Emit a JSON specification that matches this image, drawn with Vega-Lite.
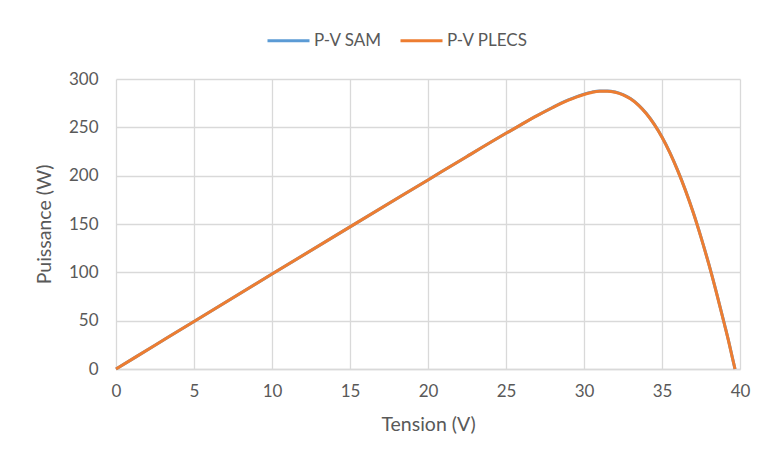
{
  "$schema": "https://vega.github.io/schema/vega-lite/v6.json",
  "width": 624,
  "height": 290,
  "autosize": {"type": "none"},
  "padding": {"left": 116, "top": 79, "right": 21, "bottom": 90},
  "background": "white",
  "config": {
    "font": "Lato",
    "view": {"stroke": null},
    "axis": {
      "gridColor": "#d9d9d9",
      "gridWidth": 1.3,
      "domain": false,
      "ticks": false,
      "labelColor": "#595959",
      "titleColor": "#595959",
      "labelFont": "Lato",
      "titleFont": "Lato",
      "labelFontSize": 17,
      "titleFontSize": 19.5,
      "titleFontWeight": "normal",
      "labelFlush": false
    }
  },
  "datasets": {
    "pv": [
      {"s": "P-V SAM", "V": 0, "P": 0},
      {"s": "P-V SAM", "V": 2.5, "P": 24.6},
      {"s": "P-V SAM", "V": 5, "P": 49.2},
      {"s": "P-V SAM", "V": 10, "P": 98.2},
      {"s": "P-V SAM", "V": 15, "P": 147.0},
      {"s": "P-V SAM", "V": 20, "P": 195.6},
      {"s": "P-V SAM", "V": 22.5, "P": 219.9},
      {"s": "P-V SAM", "V": 25, "P": 243.8},
      {"s": "P-V SAM", "V": 26, "P": 253.1},
      {"s": "P-V SAM", "V": 27, "P": 262.2},
      {"s": "P-V SAM", "V": 28, "P": 270.7},
      {"s": "P-V SAM", "V": 28.5, "P": 274.7},
      {"s": "P-V SAM", "V": 29, "P": 278.3},
      {"s": "P-V SAM", "V": 29.5, "P": 281.6},
      {"s": "P-V SAM", "V": 30, "P": 284.3},
      {"s": "P-V SAM", "V": 30.5, "P": 286.4},
      {"s": "P-V SAM", "V": 31, "P": 287.6},
      {"s": "P-V SAM", "V": 31.5, "P": 287.7},
      {"s": "P-V SAM", "V": 32, "P": 286.6},
      {"s": "P-V SAM", "V": 32.5, "P": 283.9},
      {"s": "P-V SAM", "V": 33, "P": 279.5},
      {"s": "P-V SAM", "V": 33.5, "P": 273.0},
      {"s": "P-V SAM", "V": 34, "P": 264.3},
      {"s": "P-V SAM", "V": 34.5, "P": 253.3},
      {"s": "P-V SAM", "V": 35, "P": 240.0},
      {"s": "P-V SAM", "V": 35.5, "P": 224.1},
      {"s": "P-V SAM", "V": 36, "P": 205.7},
      {"s": "P-V SAM", "V": 36.5, "P": 185.1},
      {"s": "P-V SAM", "V": 37, "P": 162.1},
      {"s": "P-V SAM", "V": 37.5, "P": 136.4},
      {"s": "P-V SAM", "V": 38, "P": 108.7},
      {"s": "P-V SAM", "V": 38.5, "P": 78.5},
      {"s": "P-V SAM", "V": 39, "P": 46.6},
      {"s": "P-V SAM", "V": 39.3, "P": 26.9},
      {"s": "P-V SAM", "V": 39.5, "P": 12.6},
      {"s": "P-V SAM", "V": 39.68, "P": 0},
      {"s": "P-V PLECS", "V": 0, "P": 0},
      {"s": "P-V PLECS", "V": 2.5, "P": 24.6},
      {"s": "P-V PLECS", "V": 5, "P": 49.2},
      {"s": "P-V PLECS", "V": 10, "P": 98.2},
      {"s": "P-V PLECS", "V": 15, "P": 147.0},
      {"s": "P-V PLECS", "V": 20, "P": 195.6},
      {"s": "P-V PLECS", "V": 22.5, "P": 219.9},
      {"s": "P-V PLECS", "V": 25, "P": 243.8},
      {"s": "P-V PLECS", "V": 26, "P": 253.1},
      {"s": "P-V PLECS", "V": 27, "P": 262.1},
      {"s": "P-V PLECS", "V": 28, "P": 270.5},
      {"s": "P-V PLECS", "V": 28.5, "P": 274.5},
      {"s": "P-V PLECS", "V": 29, "P": 278.1},
      {"s": "P-V PLECS", "V": 29.5, "P": 281.3},
      {"s": "P-V PLECS", "V": 30, "P": 284.0},
      {"s": "P-V PLECS", "V": 30.5, "P": 286.1},
      {"s": "P-V PLECS", "V": 31, "P": 287.3},
      {"s": "P-V PLECS", "V": 31.5, "P": 287.4},
      {"s": "P-V PLECS", "V": 32, "P": 286.3},
      {"s": "P-V PLECS", "V": 32.5, "P": 283.6},
      {"s": "P-V PLECS", "V": 33, "P": 279.2},
      {"s": "P-V PLECS", "V": 33.5, "P": 272.7},
      {"s": "P-V PLECS", "V": 34, "P": 264.0},
      {"s": "P-V PLECS", "V": 34.5, "P": 253.0},
      {"s": "P-V PLECS", "V": 35, "P": 239.7},
      {"s": "P-V PLECS", "V": 35.5, "P": 223.8},
      {"s": "P-V PLECS", "V": 36, "P": 205.4},
      {"s": "P-V PLECS", "V": 36.5, "P": 184.8},
      {"s": "P-V PLECS", "V": 37, "P": 161.8},
      {"s": "P-V PLECS", "V": 37.5, "P": 136.1},
      {"s": "P-V PLECS", "V": 38, "P": 108.4},
      {"s": "P-V PLECS", "V": 38.5, "P": 78.2},
      {"s": "P-V PLECS", "V": 39, "P": 46.3},
      {"s": "P-V PLECS", "V": 39.3, "P": 26.6},
      {"s": "P-V PLECS", "V": 39.5, "P": 12.4},
      {"s": "P-V PLECS", "V": 39.68, "P": 0}
    ]
  },
  "data": {"name": "pv"},
  "mark": {"type": "line", "strokeWidth": 3, "interpolate": "monotone"},
  "encoding": {
    "x": {
      "field": "V",
      "type": "quantitative",
      "scale": {"domain": [0, 40], "nice": false, "zero": true},
      "axis": {"title": "Tension (V)", "values": [0, 5, 10, 15, 20, 25, 30, 35, 40], "labelPadding": 14, "titlePadding": 16, "domain": true, "domainColor": "#d9d9d9", "domainWidth": 1.3}
    },
    "y": {
      "field": "P",
      "type": "quantitative",
      "scale": {"domain": [0, 300], "nice": false},
      "axis": {"title": "Puissance (W)", "values": [0, 50, 100, 150, 200, 250, 300], "labelPadding": 18, "titleX": -62, "titleY": 145}
    },
    "color": {
      "field": "s",
      "type": "nominal",
      "scale": {"domain": ["P-V SAM", "P-V PLECS"], "range": ["#5b9bd5", "#ed7d31"]},
      "legend": {
        "title": null,
        "orient": "none",
        "direction": "horizontal",
        "legendX": 150,
        "legendY": -61,
        "symbolType": "stroke",
        "symbolSize": 1764,
        "symbolStrokeWidth": 3,
        "labelFontSize": 17,
        "labelColor": "#595959",
        "labelFont": "Lato",
        "labelOffset": 3,
        "columnPadding": 12
      }
    },
    "order": {"field": "s", "sort": "descending"}
  }
}
